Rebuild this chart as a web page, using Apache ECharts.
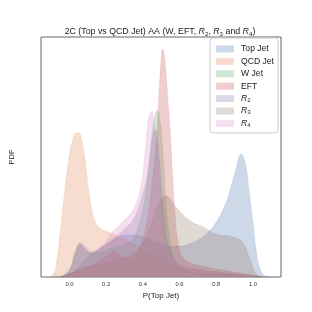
<!DOCTYPE html>
<html>
<head>
<meta charset="utf-8">
<script src="https://cdn.jsdelivr.net/npm/echarts@6/dist/echarts.min.js"></script>
<style>html,body{margin:0;padding:0;background:#fff}#c{width:312px;height:312px}</style>
</head>
<body>
<div id="c"></div>
<script>
// Series names
var seriesNames = ['Top Jet', 'QCD Jet', 'W Jet', 'EFT', 'R2', 'R3', 'R4'];
// Tick labels on x axis
var xTicks = [0.0, 0.2, 0.4, 0.6, 0.8, 1.0];

// Density curves (arbitrary y units)
var topX = [-0.1,-0.03,0.02,0.06,0.1,0.15,0.2,0.25,0.3,0.35,0.4,0.45,0.5,0.55,0.6,0.65,0.7,0.75,0.8,0.85,0.88,0.91,0.935,0.96,0.98,1.0,1.02,1.04,1.07,1.1];
var topY = [0,1,5,12,20,27,33,38,42,42,40,36,33,31,31,33,37,44,55,73,90,110,123,112,85,55,25,8,1,0];

var qcdX = [-0.11,-0.085,-0.07,-0.05,-0.025,0.0,0.02,0.04,0.052,0.065,0.08,0.092,0.105,0.119,0.135,0.16,0.2,0.25,0.3,0.35,0.4,0.45,0.5,0.55,0.6,0.7,0.8,0.9,1.0,1.05];
var qcdY = [0,4,15,45,88,122,138,144,144,138,124,107,86,70,58,50,46,42,38,33,28,24,20,15,11,7,5,3,1,0];

var wX = [-0.05,0.0,0.03,0.06,0.09,0.12,0.16,0.2,0.25,0.3,0.35,0.39,0.42,0.44,0.455,0.467,0.48,0.492,0.503,0.513,0.525,0.54,0.56,0.58,0.62,0.7,0.8,0.9,1.0,1.05];
var wY = [0,8,25,33,28,24,24,27,30,33,40,60,90,125,150,162,167,158,140,115,80,48,26,15,8,4,3,2,1,0];

var eftX = [-0.05,0.0,0.05,0.1,0.15,0.2,0.246,0.28,0.32,0.36,0.4,0.43,0.455,0.475,0.49,0.5,0.508,0.517,0.526,0.54,0.553,0.563,0.575,0.59,0.61,0.65,0.7,0.8,0.9,1.0,1.05];
var eftY = [0,3,6,10,15,21,25,21,18,22,38,65,100,140,190,218,228,222,205,170,135,100,65,37,22,15,12,8,5,2,0];

var r2X = [-0.05,0.0,0.03,0.06,0.09,0.12,0.16,0.2,0.25,0.3,0.35,0.39,0.41,0.427,0.445,0.457,0.466,0.476,0.49,0.5,0.515,0.53,0.55,0.58,0.62,0.7,0.8,0.9,1.0,1.05];
var r2Y = [0,6,22,32,27,24,27,32,40,48,58,77,90,104,130,143,148,143,118,95,62,40,26,16,11,8,5,3,1,0];

var r3X = [-0.05,0.0,0.05,0.1,0.15,0.2,0.25,0.3,0.35,0.4,0.43,0.46,0.49,0.51,0.53,0.56,0.6,0.66,0.73,0.8,0.87,0.92,0.95,0.98,1.0,1.02,1.05];
var r3Y = [0,3,8,10,12,14,16,19,24,34,45,60,75,80,81,75,66,56,50,43,41,38,33,20,10,3,0];

var r4X = [-0.05,-0.02,0.02,0.06,0.1,0.13,0.17,0.2,0.229,0.26,0.3,0.355,0.391,0.409,0.427,0.44,0.449,0.458,0.47,0.48,0.49,0.5,0.51,0.53,0.56,0.6,0.7,0.8,0.9,1.0,1.05];
var r4Y = [0,2,15,35,29,26,30,36,44,50,57,70,94,120,154,164,166,160,140,115,90,68,50,30,20,14,8,5,3,1,0];

var A = 0.28;
var rgb = ['76,114,176','221,132,82','85,168,104','196,78,82','129,114,179','147,120,96','218,139,195'];
var colors = rgb.map(function(c){ return 'rgba(' + c + ',' + A + ')'; });

function pairs(xs, ys){ return xs.map(function(x,i){ return [x, ys[i]]; }); }
var allData = [pairs(topX,topY), pairs(qcdX,qcdY), pairs(wX,wY), pairs(eftX,eftY), pairs(r2X,r2Y), pairs(r3X,r3Y), pairs(r4X,r4Y)];

var FONT = 'Liberation Sans';
var series = seriesNames.map(function(n, i){
  return {
    name: n, type: 'line', data: allData[i], smooth: 0.5,
    symbol: 'none', showSymbol: false,
    lineStyle: {width: 0.4, color: colors[i]},
    itemStyle: {color: colors[i]},
    areaStyle: {color: colors[i], opacity: 1},
    emphasis: {disabled: true},
    animation: false
  };
});

var chart = echarts.init(document.getElementById('c'), null, {renderer: 'canvas'});
chart.setOption({
  animation: false,
  backgroundColor: '#fff',
  title: {
    text: '2C (Top vs QCD Jet) AA (W, EFT, {i|R}{s|2}, {i|R}{s|3} and {i|R}{s|4})',
    left: 160, top: 27, textAlign: 'center', padding: 0,
    textStyle: {fontFamily: FONT, fontSize: 8.8, fontWeight: 'normal', color: '#222',
      rich: {i: {fontFamily: FONT, fontSize: 8.8, fontStyle: 'italic', color: '#222'},
             s: {fontFamily: FONT, fontSize: 6.2, color: '#222', padding: [4,0,0,0]}}}
  },
  legend: {
    data: seriesNames.map(function(n,i){ return {name: n, icon: 'rect', itemStyle: {color: colors[i]}}; }),
    orient: 'vertical', right: 34, top: 38,
    itemWidth: 18, itemHeight: 7, itemGap: 3.4,
    padding: [6.5, 4, 5, 6],
    backgroundColor: 'rgba(255,255,255,0.8)', borderColor: '#ccc', borderWidth: 1, borderRadius: 3,
    formatter: function(n){ return n.charAt(0) === 'R' && n.length === 2 ? '{i|R}{s|' + n.charAt(1) + '}' : n; },
    textStyle: {fontFamily: FONT, fontSize: 8.6, color: '#222', lineHeight: 8, padding: [0,0,0,2],
      rich: {i: {fontFamily: FONT, fontSize: 8.6, fontStyle: 'italic', color: '#222', lineHeight: 8},
             s: {fontFamily: FONT, fontSize: 6, color: '#222', lineHeight: 8, padding: [3,0,0,0]}}}
  },
  grid: {left: 39, top: 37, right: 31, bottom: 35, show: true, borderColor: '#666', borderWidth: 1, backgroundColor: 'transparent'},
  xAxis: {
    type: 'value', min: -0.155, max: 1.153,
    axisLine: {show: false}, axisTick: {show: false}, splitLine: {show: false},
    axisLabel: {customValues: xTicks, formatter: function(v){ return v.toFixed(1); }, fontFamily: FONT, fontSize: 5.8, color: '#333', margin: 4},
    name: 'P(Top Jet)', nameLocation: 'middle', nameGap: 15,
    nameTextStyle: {fontFamily: FONT, fontSize: 8, color: '#222'}
  },
  yAxis: {
    type: 'value', min: 0, max: 240,
    axisLine: {show: false}, axisTick: {show: false}, splitLine: {show: false}, axisLabel: {show: false},
    name: 'PDF', nameLocation: 'middle', nameGap: 25,
    nameTextStyle: {fontFamily: FONT, fontSize: 7.5, color: '#222'}
  },
  series: series
});
</script>
</body>
</html>
